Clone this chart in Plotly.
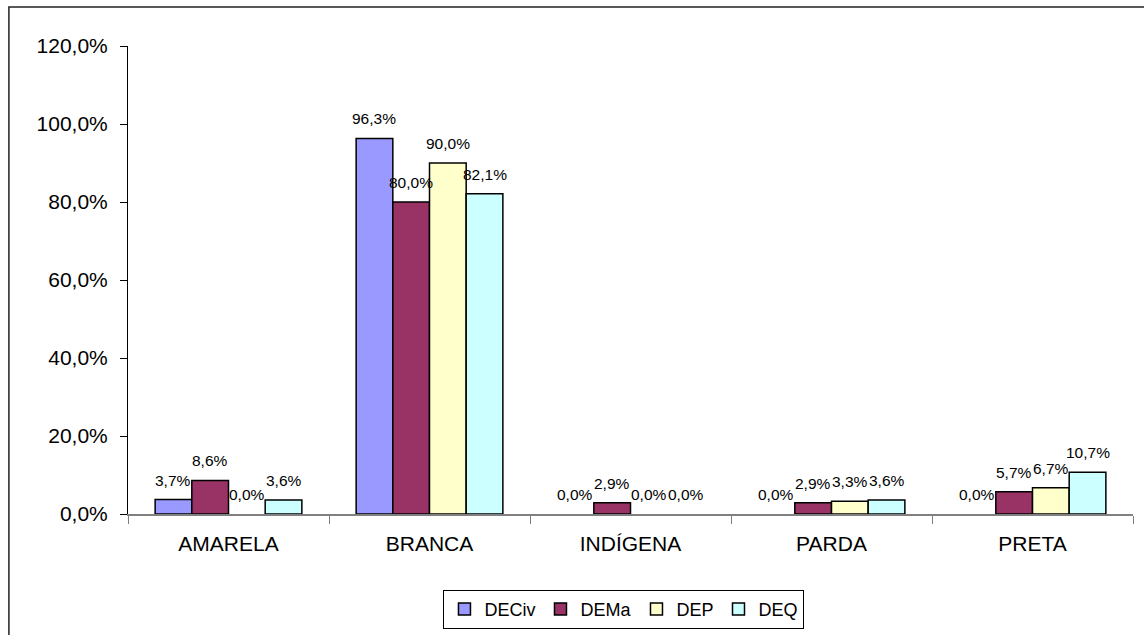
import plotly.graph_objects as go

categories = ["AMARELA", "BRANCA", "INDÍGENA", "PARDA", "PRETA"]
series_names = ["DECiv", "DEMa", "DEP", "DEQ"]
deciv = [0.037, 0.963, 0.0, 0.0, 0.0]
dema = [0.086, 0.800, 0.029, 0.029, 0.057]
dep = [0.0, 0.900, 0.0, 0.033, 0.067]
deq = [0.036, 0.821, 0.0, 0.036, 0.107]
colors = ["#9999FF", "#993366", "#FFFFCC", "#CCFFFF"]
y_ticks = [0, 0.2, 0.4, 0.6, 0.8, 1.0, 1.2]

FONT = "Liberation Sans, Arial, sans-serif"
W, H = 1144, 635
ML, MR, MT, MB = 128, 11, 46, 121
BARGAP = 0.27

fig = go.Figure()
all_series = [deciv, dema, dep, deq]
for name, vals, col in zip(series_names, all_series, colors):
    fig.add_trace(go.Bar(
        name=name, x=categories,
        y=[v if v > 0 else None for v in vals],  # zero-height bars are not drawn
        marker=dict(color=col, line=dict(color="black", width=1.5)),
        cliponaxis=False,
    ))

# data labels, positioned over each bar of the group
cat_px = (W - ML - MR) / len(categories)
bar_px = cat_px * (1 - BARGAP) / len(all_series)
annotations = []
for i, vals in enumerate(all_series):
    off = (i - (len(all_series) - 1) / 2) * bar_px
    for c, v in zip(categories, vals):
        annotations.append(dict(
            x=c, y=v, xref="x", yref="y", xshift=off, yshift=9,
            text=f"{v*100:.1f}%".replace(".", ","), showarrow=False,
            xanchor="center", yanchor="bottom",
            font=dict(family=FONT, size=15.5, color="black"),
        ))

fig.update_layout(
    width=W, height=H, autosize=False,
    margin=dict(l=ML, r=MR, t=MT, b=MB, autoexpand=False),
    paper_bgcolor="white", plot_bgcolor="white",
    separators=",.",
    barmode="group", bargap=BARGAP, bargroupgap=0,
    font=dict(family=FONT, color="black"),
    showlegend=True,
    legend=dict(
        orientation="h", x=0.4935, xanchor="center", y=-0.162, yanchor="top",
        font=dict(family=FONT, size=18, color="black"),
        bordercolor="black", borderwidth=1, bgcolor="white",
        tracegroupgap=0,
    ),
    xaxis=dict(
        showline=True, linecolor="#808080", linewidth=1.5,
        ticks="outside", tickson="boundaries", ticklen=8, tickcolor="#808080",
        tickfont=dict(family=FONT, size=21, color="black"),
        ticklabelstandoff=10, showgrid=False,
    ),
    yaxis=dict(
        range=[0, 1.2], tickvals=y_ticks, tickformat=".1%",
        showline=True, linecolor="black", linewidth=1,
        ticks="outside", ticklen=7, tickcolor="black",
        tickfont=dict(family=FONT, size=21, color="black"),
        ticklabelstandoff=8, showgrid=False, zeroline=False,
    ),
    annotations=annotations,
    shapes=[dict(type="rect", xref="paper", yref="paper",
                 x0=-0.1185, x1=1.05, y0=-0.3, y1=1.0833,
                 line=dict(color="#222222", width=1.5), fillcolor="rgba(0,0,0,0)",
                 layer="below")],
)

fig.write_html("out.html", config={"displayModeBar": False},
               post_script="document.body.style.margin='0';document.body.style.overflow='hidden';")
